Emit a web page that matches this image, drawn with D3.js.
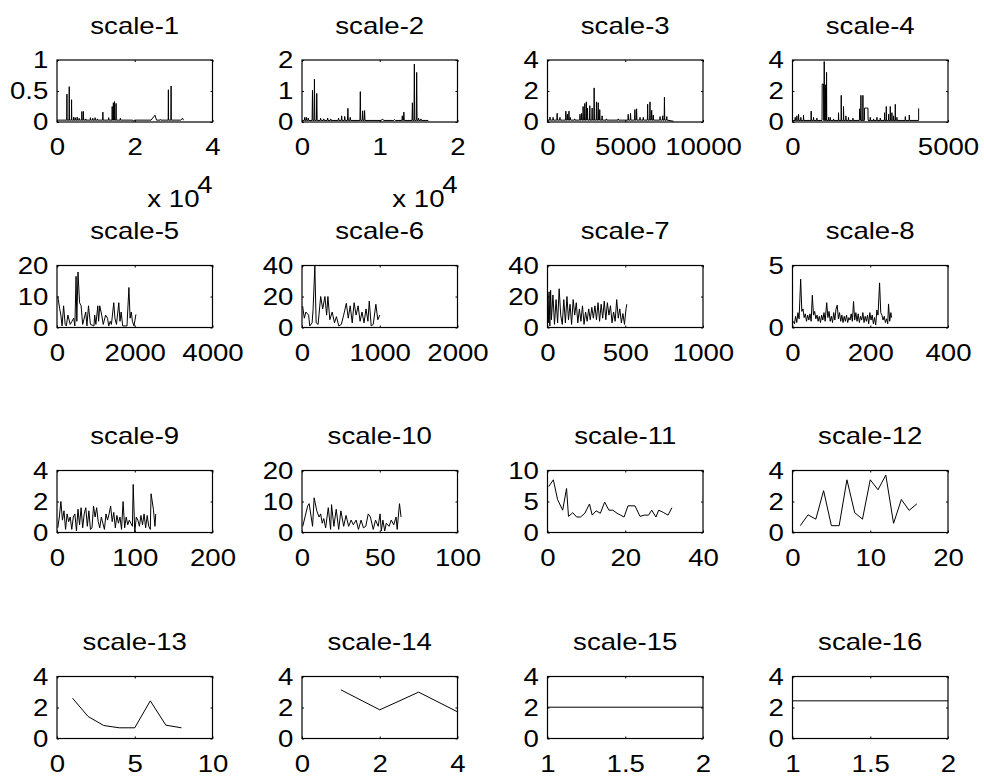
<!DOCTYPE html>
<html>
<head>
<meta charset="utf-8">
<script src="https://cdn.jsdelivr.net/npm/d3@7"></script>
<style>
  body { margin: 0; background: #fff; }
  svg text { font-family: "Liberation Sans", Arial, Helvetica, sans-serif; font-size: 23px; fill: #000; }
</style>
</head>
<body>
<svg id="fig" width="984" height="776"></svg>
<script>
// subplot titles
const titles = ["scale-1", "scale-2", "scale-3", "scale-4", "scale-5", "scale-6", "scale-7", "scale-8",
  "scale-9", "scale-10", "scale-11", "scale-12", "scale-13", "scale-14", "scale-15", "scale-16"];

// axis ranges
const xDomains = [[0, 40000], [0, 20000], [0, 10000], [0, 5000], [0, 4000], [0, 2000], [0, 1000], [0, 400],
  [0, 200], [0, 100], [0, 40], [0, 20], [0, 10], [0, 4], [1, 2], [1, 2]];
const yDomains = [[0, 1], [0, 2], [0, 4], [0, 4], [0, 20], [0, 40], [0, 40], [0, 5],
  [0, 4], [0, 20], [0, 10], [0, 4], [0, 4], [0, 4], [0, 4], [0, 4]];

// tick values
const xTickValues = [[0, 20000, 40000], [0, 10000, 20000], [0, 5000, 10000], [0, 5000], [0, 2000, 4000], [0, 1000, 2000],
  [0, 500, 1000], [0, 200, 400], [0, 100, 200], [0, 50, 100], [0, 20, 40], [0, 10, 20], [0, 5, 10], [0, 2, 4],
  [1, 1.5, 2], [1, 1.5, 2]];
const xExponents = [4, 4, 0, 0, 0, 0, 0, 0, 0, 0, 0, 0, 0, 0, 0, 0];
const yTickValues = [[0, 0.5, 1], [0, 1, 2], [0, 2, 4], [0, 2, 4], [0, 10, 20], [0, 20, 40], [0, 20, 40], [0, 5],
  [0, 2, 4], [0, 10, 20], [0, 5, 10], [0, 2, 4], [0, 2, 4], [0, 2, 4], [0, 2, 4], [0, 2, 4]];

// series (x, y)
const series1 = [[0,0.03],[2500,0.03],[2550,0.45],[2600,0.03],[3100,0.03],[3150,0.57],[3200,0.03],[3700,0.03],[3750,0.36],[3800,0.03],
  [4250,0.03],[4300,0.08],[4350,0.03],[4650,0.03],[4700,0.07],[4750,0.03],[5150,0.03],[5200,0.08],[5250,0.03],[5650,0.03],[5700,0.06],
  [5750,0.03],[6350,0.03],[6400,0.17],[6450,0.03],[6750,0.03],[6800,0.17],[6850,0.03],[7350,0.03],[7400,0.05],[7450,0.03],[8550,0.03],
  [8600,0.07],[8650,0.03],[9150,0.03],[9200,0.06],[9250,0.03],[9750,0.03],[9800,0.07],[9850,0.03],[10350,0.03],[10400,0.05],[10450,0.03],
  [11750,0.03],[11800,0.16],[11850,0.03],[13250,0.03],[13300,0.07],[13350,0.03],[14150,0.03],[14200,0.25],[14250,0.03],[14450,0.03],
  [14500,0.31],[14550,0.03],[14750,0.03],[14800,0.33],[14850,0.03],[15150,0.03],[15200,0.3],[15250,0.03],[16250,0.03],[16300,0.06],
  [16350,0.03],[19500,0.03],[19700,0.01],[19900,0.03],[24200,0.03],[25200,0.11],[25600,0.03],[26500,0.03],[26600,0.04],[26700,0.03],
  [28600,0.03],[28650,0.52],[28700,0.03],[29300,0.03],[29350,0.58],[29400,0.03],[31800,0.03],[32300,0.06],[32500,0.03]];
const series2 = [[0,0.05],[300,0.05],[350,0.15],[400,0.05],[500,0.05],[550,0.15],[600,0.05],[750,0.05],[800,0.13],[850,0.05],
  [1300,0.05],[1350,1.02],[1400,0.05],[1550,0.05],[1600,1.38],[1650,0.05],[1850,0.05],[1900,0.92],[1950,0.05],[2350,0.05],[2400,0.12],
  [2450,0.05],[2750,0.05],[2800,0.1],[2850,0.05],[3250,0.05],[3300,0.13],[3350,0.05],[3650,0.05],[3700,0.1],[3750,0.05],[4650,0.05],
  [4700,0.13],[4750,0.05],[5050,0.05],[5100,0.2],[5150,0.05],[5450,0.05],[5500,0.18],[5550,0.05],[5850,0.05],[5900,0.44],[5950,0.05],
  [6150,0.05],[6200,0.15],[6250,0.05],[7450,0.05],[7500,0.98],[7550,0.05],[7750,0.05],[7800,0.36],[7850,0.05],[8000,0.05],[8050,0.37],
  [8100,0.05],[10200,0.05],[10350,0.1],[10500,0.05],[11800,0.05],[11900,0.08],[12000,0.05],[12850,0.05],[12900,0.2],[12950,0.05],
  [13050,0.05],[13100,0.32],[13150,0.05],[14150,0.05],[14200,0.62],[14250,0.05],[14400,0.05],[14450,1.87],[14500,0.05],[14700,0.05],
  [14750,1.6],[14800,0.05],[14950,0.05],[15000,0.12],[15050,0.05],[15250,0.05],[15300,0.1],[15350,0.05],[16200,0.05],[16300,0.02]];
const series3 = [[0,0.12],[140,0.12],[160,0.32],[180,0.12],[340,0.12],[360,0.3],[380,0.12],[600,0.12],[620,0.56],[640,0.12],
  [780,0.12],[800,0.3],[820,0.12],[1160,0.12],[1180,0.7],[1200,0.12],[1260,0.12],[1280,0.5],[1300,0.12],[1360,0.12],[1380,0.7],
  [1400,0.12],[1450,0.12],[1470,0.3],[1490,0.12],[1730,0.12],[1750,0.2],[1770,0.12],[2070,0.12],[2090,0.5],[2110,0.12],[2170,0.12],
  [2190,0.55],[2210,0.12],[2270,0.12],[2290,1.0],[2310,0.12],[2380,0.12],[2400,1.2],[2420,0.12],[2480,0.12],[2500,1.3],[2520,0.12],
  [2550,0.12],[2570,0.9],[2590,0.12],[2700,0.12],[2720,1.05],[2740,0.12],[2850,0.12],[2870,0.9],[2890,0.12],[2980,0.12],[3000,2.2],
  [3020,0.12],[3130,0.12],[3150,1.3],[3170,0.12],[3240,0.12],[3260,1.25],[3280,0.12],[3340,0.12],[3360,0.8],[3380,0.12],[3490,0.12],
  [3510,0.4],[3530,0.12],[3770,0.12],[3790,0.2],[3810,0.12],[4530,0.12],[4550,0.2],[4570,0.12],[5170,0.12],[5190,0.5],[5210,0.12],
  [5320,0.12],[5340,0.55],[5360,0.12],[5600,0.12],[5620,0.8],[5640,0.12],[5710,0.12],[5730,0.85],[5750,0.12],[5930,0.12],[5950,0.3],
  [5970,0.12],[6140,0.12],[6160,0.3],[6180,0.12],[6420,0.12],[6440,1.15],[6460,0.12],[6570,0.12],[6590,1.3],[6610,0.12],[6680,0.12],
  [6700,0.75],[6720,0.12],[6780,0.12],[6800,0.45],[6820,0.12],[7220,0.12],[7240,0.35],[7260,0.12],[7390,0.12],[7410,0.4],[7430,0.12],
  [7500,0.12],[7520,1.6],[7540,0.12],[7650,0.12],[7670,0.35],[7690,0.12],[8100,0.05]];
const series4 = [[0,0.1],[80,0.1],[86,0.3],[95,0.1],[135,0.1],[140,0.4],[150,0.1],[190,0.1],[195,0.5],[205,0.1],[262,0.1],[268,0.3],
  [275,0.1],[348,0.1],[354,0.45],[362,0.1],[594,0.1],[600,0.7],[608,0.1],[670,0.1],[676,0.3],[684,0.1],[777,0.1],[783,0.25],[790,0.1],
  [950,0.1],[955,2.45],[998,2.45],[1003,0.1],[1015,0.1],[1020,3.9],[1028,0.1],[1058,0.1],[1062,2.4],[1070,0.1],[1090,0.1],[1095,3.2],
  [1102,0.1],[1155,0.1],[1160,0.3],[1168,0.1],[1208,0.1],[1213,0.3],[1220,0.1],[1315,0.1],[1320,0.2],[1328,0.1],[1475,0.1],[1480,0.6],
  [1488,0.1],[1562,0.1],[1567,1.72],[1575,0.1],[1635,0.1],[1640,1.0],[1648,0.1],[1712,0.1],[1717,0.4],[1725,0.1],[1795,0.1],[1800,0.3],
  [1808,0.1],[1937,0.1],[1942,0.25],[1950,0.1],[2152,0.1],[2157,0.85],[2195,0.1],[2200,1.72],[2205,0.1],[2259,0.1],[2264,1.72],
  [2270,0.1],[2313,0.1],[2318,0.9],[2371,0.9],[2425,0.9],[2432,0.1],[2495,0.1],[2500,0.3],[2508,0.1],[2602,0.1],[2607,0.2],[2615,0.1],
  [2710,0.1],[2715,0.3],[2722,0.1],[2817,0.1],[2822,0.25],[2830,0.1],[2956,0.1],[2961,0.6],[2968,0.1],[3010,0.1],[3015,1.0],[3022,0.1],
  [3085,0.1],[3090,0.5],[3097,0.1],[3139,0.1],[3144,1.0],[3151,0.1],[3192,0.1],[3197,0.6],[3204,0.1],[3246,0.1],[3251,0.4],[3258,0.1],
  [3300,0.1],[3305,1.14],[3312,0.1],[3353,0.1],[3358,0.3],[3365,0.1],[3622,0.1],[3627,0.35],[3635,0.1],[3751,0.1],[3756,0.45],
  [3764,0.1],[4056,0.1],[4056,0.88]];
const series5 = [[20,10],[70,6],[100,4],[130,0.5],[170,7],[210,1],[240,0.5],[280,4],[340,1],[430,3],[460,0.5],[490,16.5],[510,2],
  [540,17.9],[580,8],[620,7],[660,1],[740,5],[770,0.5],[810,7],[860,1],[950,0.5],[970,4],[1000,1],[1050,7],[1070,2],[1100,7],[1150,4],
  [1190,1],[1250,4],[1300,3],[1330,0.5],[1370,2],[1400,1],[1460,8],[1490,3],[1530,1],[1590,8],[1620,2],[1650,5],[1690,0.5],[1720,0.5],
  [1770,0.5],[1800,0.5],[1850,12.9],[1880,3],[1910,5],[1940,2],[1980,0.5],[2030,4.2]];
const series6 = [[8,13.8],[30,6],[50,10],[85,8],[100,1],[130,3],[143,12],[165,39.6],[182,3],[207,2],[240,20],[266,12],[295,20],[317,8],
  [333,20],[358,5],[388,10],[418,3],[443,7],[473,1],[506,2],[536,8],[570,15.6],[595,6],[620,14],[646,3],[670,16],[696,8],[722,14],
  [747,4],[772,10],[798,3],[823,12],[848,4],[865,17],[890,1],[916,2],[950,15],[975,5],[1000,8]];
const series7 = [[0,22],[5,3],[10,23],[15,1],[20,24],[25,5],[35,21],[45,2],[55,18],[65,3],[75,25],[85,8],[95,2],[105,18],[115,3],
  [125,20],[135,5],[145,15],[155,2],[165,18],[175,8],[185,16],[195,3],[205,12],[215,4],[225,14],[235,2],[245,10],[255,4],[265,12],
  [275,5],[285,13],[295,6],[305,14],[315,5],[325,16],[335,4],[345,15],[355,6],[365,17],[375,5],[385,16],[395,8],[405,14],[415,3],
  [425,10],[435,4],[445,18],[455,6],[465,12],[475,3],[485,9],[495,2],[505,12],[510,15]];
const series8 = [[2,0.5],[5,0.3],[8,0.9],[11,0.4],[14,1.2],[17,0.7],[21,3.9],[24,1.3],[27,1.5],[30,0.8],[33,1.1],[36,0.5],[39,1.0],
  [42,0.6],[45,1.1],[48,0.5],[51,2.6],[54,1.0],[57,1.3],[60,0.7],[63,1.0],[66,0.5],[69,0.9],[72,0.4],[75,1.0],[78,0.6],[81,1.2],[84,0.5],
  [88,2.0],[91,0.8],[94,1.3],[97,0.5],[100,0.9],[103,0.4],[106,1.2],[109,0.6],[112,1.5],[115,1.8],[118,0.7],[121,1.2],[124,0.5],
  [127,1.0],[130,0.4],[133,0.9],[136,0.5],[139,1.0],[142,0.4],[145,0.8],[148,0.6],[151,1.1],[154,0.5],[157,2.1],[160,0.6],[163,1.2],
  [166,0.5],[169,1.1],[172,0.4],[175,0.9],[178,0.6],[181,1.2],[184,0.4],[187,0.9],[190,0.5],[193,1.0],[196,0.3],[199,1.2],[202,0.6],
  [205,1.0],[208,0.3],[211,0.8],[214,0.2],[217,1.4],[220,1.0],[224,3.6],[227,1.2],[230,1.0],[233,0.6],[236,0.9],[239,0.4],[242,0.7],
  [245,0.3],[247,1.9],[250,0.5],[253,1.2],[255,0.8]];
const series9 = [[1,0.3],[3,1.0],[5,2.0],[7,0.8],[9,1.4],[11,0.2],[13,1.2],[15,0.7],[17,1.0],[19,0.2],[21,1.0],[23,1.2],[25,0.1],
  [27,1.5],[29,0.5],[31,1.6],[33,0.3],[35,1.2],[37,1.6],[39,0.4],[41,1.4],[43,0.2],[45,0.3],[47,1.7],[49,1.0],[51,1.6],[53,0.7],
  [55,0.3],[57,1.0],[59,0.6],[61,0.2],[63,1.2],[65,0.8],[67,1.2],[69,1.7],[71,0.7],[73,1.3],[75,0.3],[77,1.1],[79,0.6],[81,1.0],
  [83,0.2],[85,2.0],[87,0.3],[89,1.0],[91,0.5],[93,0.8],[95,0.6],[97,0.4],[98,3.1],[100,0.0],[102,1.0],[104,0.8],[106,0.4],[108,1.1],
  [110,0.5],[112,1.2],[114,0.3],[116,1.1],[118,0.4],[120,0.2],[121,2.5],[124,1.5],[126,0.4],[127,1.2]];
const series10 = [[0.5,2],[3.6,8.5],[4.6,9.3],[6.8,2],[7.8,11.2],[9.5,7],[11,5],[12,6],[13,3],[14,4.5],[15.2,1.5],[16.9,8],[18.4,1],
  [19,9],[20.5,2],[22,7.5],[23.6,1],[25,7],[26.8,2],[28.3,5.5],[30,2],[31.6,4],[33,2.5],[34.8,4],[36.3,1],[38,4],[39.5,1.5],[41,2],
  [42.6,6],[44,5],[45.8,1],[47.3,4],[49,2],[50.2,6],[51,0.5],[52,4],[53.2,0.5],[54.2,3],[56,2],[57.4,4],[59,2.5],[60.5,5],[61.2,1],
  [62.7,9.3],[63.7,5]];
const series11 = [[0.3,7.4],[1.5,8.5],[2.6,5.3],[3.9,3.6],[4.9,7.1],[5.4,2.6],[6.5,3.2],[7.5,2.5],[8.5,2.5],[9.6,3.1],[10.8,4.6],
  [11.5,2.8],[12.5,3.5],[13.6,3.1],[14.7,4.9],[15.8,3.6],[16.8,3.6],[17.9,3.1],[18.8,2.8],[19.7,2.5],[20.7,4.3],[22.5,4.3],[23.8,2.6],
  [24.9,2.8],[26,2.8],[26.8,3.6],[27.9,2.5],[28.6,3.6],[29.9,3.2],[31,2.8],[32,4.0]];
const series12 = [[1,0.44],[2,1.14],[3,0.86],[4,2.7],[5,0.44],[6,0.44],[7,3.4],[8,1.28],[9,0.86],[10,3.4],[11,2.76],[12,3.7],
  [13,0.59],[14,2.13],[15,1.43],[16,1.85]];
const series13 = [[1,2.6],[2,1.42],[3,0.84],[4,0.69],[5,0.69],[6,2.43],[7,0.86],[8,0.69]];
const series14 = [[1,3.14],[2,1.85],[3,2.99],[4,1.72]];
const series15 = [[1,2.02],[2,2.02]];
const series16 = [[1,2.43],[2,2.43]];
const series = [series1, series2, series3, series4, series5, series6, series7, series8,
  series9, series10, series11, series12, series13, series14, series15, series16];

const colLeft = [57, 302, 547.5, 792.5];
const rowTop = [60, 265.5, 470.5, 676.5];
const boxW = 155.5, boxH = 62;
const sx = 1.2; // text is drawn horizontally stretched
const tick = 2;

const svg = d3.select("#fig");

titles.forEach((title, i) => {
  const r = Math.floor(i / 4), c = i % 4;
  const g = svg.append("g").attr("transform", `translate(${colLeft[c]},${rowTop[r]})`);

  const x = d3.scaleLinear().domain(xDomains[i]).range([0, boxW]);
  const y = d3.scaleLinear().domain(yDomains[i]).range([boxH, 0]);
  const exp = xExponents[i];

  // clip
  g.append("clipPath").attr("id", `clip${i}`)
    .append("rect").attr("width", boxW).attr("height", boxH);

  // bottom axis with labels
  const xb = g.append("g").attr("transform", `translate(0,${boxH})`)
    .call(d3.axisBottom(x).tickValues(xTickValues[i]).tickSizeInner(-tick).tickSizeOuter(0).tickPadding(16.7)
      .tickFormat(v => d3.format("")(v / Math.pow(10, exp))));
  // left axis with labels
  const yl = g.append("g")
    .call(d3.axisLeft(y).tickValues(yTickValues[i]).tickSizeInner(-tick).tickSizeOuter(0).tickPadding(7.2)
      .tickFormat(d3.format("")));
  // top / right ticks, no labels
  const xt = g.append("g")
    .call(d3.axisTop(x).tickValues(xTickValues[i]).tickSizeInner(-tick).tickSizeOuter(0).tickFormat(""));
  const yr = g.append("g").attr("transform", `translate(${boxW},0)`)
    .call(d3.axisRight(y).tickValues(yTickValues[i]).tickSizeInner(-tick).tickSizeOuter(0).tickFormat(""));

  [xb, yl, xt, yr].forEach(a => {
    a.attr("font-family", null).attr("font-size", null);
    a.select(".domain").remove();
    a.selectAll(".tick line").attr("stroke", "#000").attr("stroke-width", 1);
  });
  xb.selectAll("text").attr("transform", `scale(${sx},1)`);
  yl.selectAll("text").attr("dy", "0.33em").attr("transform", `scale(${sx},1)`);

  // data line
  g.append("path")
    .datum(series[i])
    .attr("clip-path", `url(#clip${i})`)
    .attr("fill", "none")
    .attr("stroke", "#000")
    .attr("stroke-width", 1)
    .attr("d", d3.line().x(d => x(d[0])).y(d => y(d[1])));

  // axes box
  g.append("rect")
    .attr("width", boxW).attr("height", boxH)
    .attr("fill", "none").attr("stroke", "#000").attr("stroke-width", 1.2);

  // title
  g.append("text")
    .attr("text-anchor", "middle")
    .attr("transform", `translate(${boxW / 2},-26.5) scale(${sx},1)`)
    .text(title);

  // exponent label under x axis
  if (exp) {
    g.append("text")
      .attr("text-anchor", "end")
      .attr("transform", `translate(${boxW - 13},${boxH + 85}) scale(${sx},1)`)
      .text("x 10");
    g.append("text")
      .attr("text-anchor", "end")
      .attr("transform", `translate(${boxW},${boxH + 71}) scale(${sx},1)`)
      .text(exp);
  }
});
</script>
</body>
</html>
